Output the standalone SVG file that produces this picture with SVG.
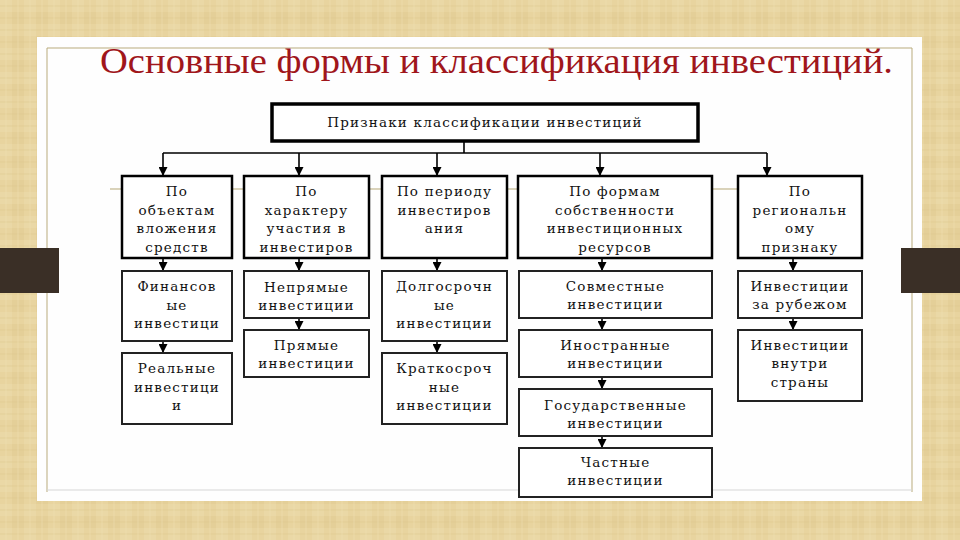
<svg xmlns="http://www.w3.org/2000/svg" width="960" height="540" viewBox="0 0 960 540">
  <defs>
    <pattern id="tex" width="24" height="24" patternUnits="userSpaceOnUse">
      <rect width="24" height="24" fill="#e8d49f"/>
      <rect x="0" y="0" width="12" height="12" fill="#ead8a6"/>
      <rect x="12" y="12" width="12" height="12" fill="#e4cf98"/>
      <path d="M0 6 H24 M0 18 H24" stroke="#dcc58c" stroke-width="1" opacity="0.5"/>
      <path d="M6 0 V24 M18 0 V24" stroke="#f0e0b4" stroke-width="1" opacity="0.5"/>
    </pattern>
    <marker id="ah" viewBox="0 0 10 10" refX="10" refY="5" markerWidth="9" markerHeight="9" markerUnits="userSpaceOnUse" orient="auto">
      <path d="M0 0 L10 5 L0 10 Z" fill="#000"/>
    </marker>
  </defs>
  <style>
    .t { font-family: "DejaVu Serif", serif; font-size: 13.5px; fill: #111; text-anchor: middle; letter-spacing: 1.2px; }
    .l1 { fill: #fff; stroke: #000; stroke-width: 2.5; }
    .l2 { fill: #fff; stroke: #222; stroke-width: 2; }
    .c { fill: none; stroke: #000; stroke-width: 1.6; }
    .ca { fill: none; stroke: #000; stroke-width: 1.6; marker-end: url(#ah); }
  </style>

  <rect width="960" height="540" fill="url(#tex)"/>
  <rect x="37" y="37" width="885" height="464" fill="#fefefe"/>
  <path d="M47 48 H912 M47 48 V492 M912 48 V492" fill="none" stroke="#b9ab7c" stroke-width="1"/>
  <path d="M47 490 H912" fill="none" stroke="#d6d6d6" stroke-width="1"/>
  <rect x="0" y="248" width="59" height="45" fill="#3a2f26"/>
  <rect x="901" y="248" width="59" height="45" fill="#3a2f26"/>

  <text x="100" y="73" textLength="793" lengthAdjust="spacingAndGlyphs" style="font-family: 'Liberation Serif', 'Times New Roman', serif; font-size: 35px; fill: #a0161b;">Основные формы и классификация инвестиций.</text>

  <path d="M110 189 H740" stroke="#b5a777" stroke-width="1" fill="none"/>

  <g id="connectors">
    <path class="c" d="M464 142 V153 M163 153 H767"/>
    <path class="ca" d="M163 153 V176"/>
    <path class="ca" d="M299 153 V176"/>
    <path class="ca" d="M437 153 V176"/>
    <path class="ca" d="M600 153 V176"/>
    <path class="ca" d="M767 153 V176"/>
    <path class="ca" d="M163 258 V271"/>
    <path class="ca" d="M163 341 V353"/>
    <path class="ca" d="M299 258 V271"/>
    <path class="ca" d="M299 318 V330"/>
    <path class="ca" d="M437 258 V271"/>
    <path class="ca" d="M437 341 V353"/>
    <path class="ca" d="M602 258 V271"/>
    <path class="ca" d="M602 318 V330"/>
    <path class="ca" d="M602 377 V389"/>
    <path class="ca" d="M602 436 V448"/>
    <path class="ca" d="M793 258 V271"/>
    <path class="ca" d="M793 318 V330"/>
  </g>

  <g id="root">
    <rect x="272" y="104" width="426" height="37" fill="#fff" stroke="#000" stroke-width="3.5"/>
    <text class="t" x="485" y="127">Признаки классификации инвестиций</text>
  </g>

  <g id="k1">
    <rect class="l1" x="122" y="176" width="110" height="82"/>
    <text class="t" x="177" y="196">По</text>
    <text class="t" x="177" y="215">объектам</text>
    <text class="t" x="177" y="233">вложения</text>
    <text class="t" x="177" y="252">средств</text>
  </g>
  <g id="k2">
    <rect class="l1" x="244" y="176" width="125" height="82"/>
    <text class="t" x="306.5" y="196">По</text>
    <text class="t" x="306.5" y="215">характеру</text>
    <text class="t" x="306.5" y="233">участия в</text>
    <text class="t" x="306.5" y="252">инвестиров</text>
  </g>
  <g id="k3">
    <rect class="l1" x="382" y="176" width="125" height="82"/>
    <text class="t" x="444.5" y="196">По периоду</text>
    <text class="t" x="444.5" y="215">инвестиров</text>
    <text class="t" x="444.5" y="233">ания</text>
  </g>
  <g id="k4">
    <rect class="l1" x="518" y="176" width="194" height="82"/>
    <text class="t" x="615" y="196">По формам</text>
    <text class="t" x="615" y="215">собственности</text>
    <text class="t" x="615" y="233">инвестиционных</text>
    <text class="t" x="615" y="252">ресурсов</text>
  </g>
  <g id="k5">
    <rect class="l1" x="738" y="176" width="124" height="82"/>
    <text class="t" x="800" y="196">По</text>
    <text class="t" x="800" y="215">региональн</text>
    <text class="t" x="800" y="233">ому</text>
    <text class="t" x="800" y="252">признаку</text>
  </g>

  <g id="fin">
    <rect class="l2" x="122" y="271" width="110" height="70"/>
    <text class="t" x="177" y="291">Финансов</text>
    <text class="t" x="177" y="310">ые</text>
    <text class="t" x="177" y="328">инвестици</text>
  </g>
  <g id="real">
    <rect class="l2" x="122" y="353" width="110" height="71"/>
    <text class="t" x="177" y="373">Реальные</text>
    <text class="t" x="177" y="392">инвестици</text>
    <text class="t" x="177" y="410">и</text>
  </g>
  <g id="neprjam">
    <rect class="l2" x="244" y="271" width="125" height="47"/>
    <text class="t" x="306.5" y="292">Непрямые</text>
    <text class="t" x="306.5" y="310">инвестиции</text>
  </g>
  <g id="prjam">
    <rect class="l2" x="244" y="330" width="125" height="47"/>
    <text class="t" x="306.5" y="350">Прямые</text>
    <text class="t" x="306.5" y="368">инвестиции</text>
  </g>
  <g id="dolg">
    <rect class="l2" x="382" y="271" width="125" height="70"/>
    <text class="t" x="444.5" y="291">Долгосрочн</text>
    <text class="t" x="444.5" y="310">ые</text>
    <text class="t" x="444.5" y="328">инвестиции</text>
  </g>
  <g id="krat">
    <rect class="l2" x="382" y="353" width="125" height="71"/>
    <text class="t" x="444.5" y="373">Краткосроч</text>
    <text class="t" x="444.5" y="392">ные</text>
    <text class="t" x="444.5" y="410">инвестиции</text>
  </g>
  <g id="sovm">
    <rect class="l2" x="519" y="271" width="193" height="47"/>
    <text class="t" x="615.5" y="291">Совместные</text>
    <text class="t" x="615.5" y="309">инвестиции</text>
  </g>
  <g id="inostr">
    <rect class="l2" x="519" y="330" width="193" height="47"/>
    <text class="t" x="615.5" y="350">Иностранные</text>
    <text class="t" x="615.5" y="368">инвестиции</text>
  </g>
  <g id="gos">
    <rect class="l2" x="519" y="389" width="193" height="47"/>
    <text class="t" x="615.5" y="410">Государственные</text>
    <text class="t" x="615.5" y="428">инвестиции</text>
  </g>
  <g id="chast">
    <rect class="l2" x="519" y="448" width="193" height="49"/>
    <text class="t" x="615.5" y="467">Частные</text>
    <text class="t" x="615.5" y="485">инвестиции</text>
  </g>
  <g id="zarub">
    <rect class="l2" x="738" y="271" width="124" height="47"/>
    <text class="t" x="800" y="291">Инвестиции</text>
    <text class="t" x="800" y="309">за рубежом</text>
  </g>
  <g id="vnutri">
    <rect class="l2" x="738" y="330" width="124" height="71"/>
    <text class="t" x="800" y="350">Инвестиции</text>
    <text class="t" x="800" y="368">внутри</text>
    <text class="t" x="800" y="387">страны</text>
  </g>
</svg>
